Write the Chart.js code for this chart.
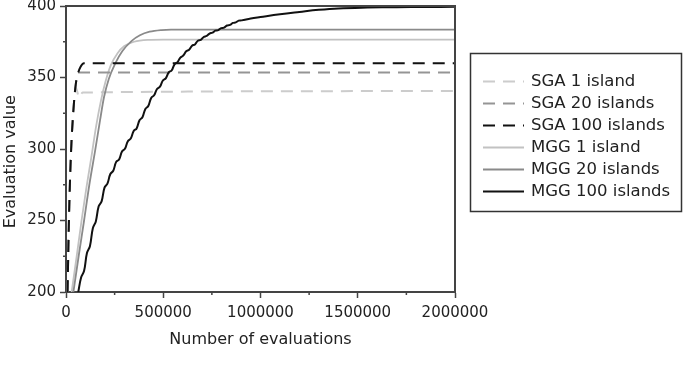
<!DOCTYPE html>
<html>
<head>
<meta charset="utf-8">
<script src="https://cdn.jsdelivr.net/npm/chart.js@4.4.1/dist/chart.umd.min.js"></script>
<style>
  html, body { margin: 0; padding: 0; background: #fff; }
  #wrap { width: 685px; height: 372px; }
</style>
</head>
<body>
<div id="wrap"><canvas id="graphCanvas" width="685" height="372"></canvas></div>
<script>
// series names
var seriesNames = ['SGA 1 island', 'SGA 20 islands', 'SGA 100 islands',
                   'MGG 1 island', 'MGG 20 islands', 'MGG 100 islands'];

// SGA runs (evaluations / evaluation value)
var sga1X = [8000, 15000, 25000, 38000, 50000, 68000, 85000, 2000000];
var sga1Y = [200, 250, 295, 327, 343, 336, 339.5, 340.5];
var sga20X = [8000, 15000, 25000, 38000, 50000, 62000, 2000000];
var sga20Y = [200, 250, 295, 327, 345, 353.5, 353.5];
var sga100X = [8000, 15000, 25000, 38000, 50000, 62000, 75000, 92000, 2000000];
var sga100Y = [200, 250, 295, 327, 345, 353, 357.5, 360, 360];

// MGG runs
var mgg1X = [29000, 55000, 80000, 105000, 130000, 155000, 180000, 205000, 230000, 265000, 300000, 350000, 420000, 500000, 2000000];
var mgg1Y = [200, 225, 250, 273, 294, 316, 334, 348, 358.5, 367, 372, 375, 376.3, 376.5, 376.5];
var mgg20X = [38000, 65000, 93000, 120000, 150000, 175000, 195000, 220000, 252000, 290000, 338000, 380000, 430000, 490000, 540000, 2000000];
var mgg20Y = [200, 225, 250, 275, 299, 320, 336, 349, 359.5, 368.5, 375.6, 379.5, 382, 383.2, 383.5, 383.5];
var mgg100X = [63000, 78000, 93000, 108000, 123000, 138000, 153000, 168000, 183000, 198000,
               213000, 228000, 243000, 258000, 273000, 288000, 303000, 318000, 333000, 348000,
               363000, 378000, 393000, 408000, 423000, 438000, 453000, 468000, 483000, 498000,
               513000, 528000, 543000, 558000, 573000, 588000, 603000, 618000, 633000, 648000,
               663000, 678000, 693000, 708000, 723000, 738000, 753000, 768000, 783000, 798000,
               813000, 828000, 843000, 858000, 873000, 888000, 903000,
               950000, 1000000, 1100000, 1200000, 1300000, 1400000, 1550000, 1700000, 1850000, 2000000];
var mgg100Y = [200, 210.3, 214.8, 227.4, 232, 244.6, 249.2, 259.9, 263.4, 273,
               275.8, 282.5, 284.8, 291, 292.7, 298.3, 300.1, 305.5, 307.3, 312.6,
               314.4, 320.1, 322.2, 328, 330.1, 335.7, 337.6, 342, 343.6, 347.9,
               349.4, 353.6, 354.9, 359.2, 360.75, 363.95, 365.35, 368.35, 369.45, 372.25,
               373.15, 375.75, 376.25, 378.35, 379.05, 380.75, 381.35, 382.75, 383.15, 384.55,
               384.85, 386.35, 386.75, 388.15, 388.55, 389.75, 389.95,
               391.3, 392.3, 394.2, 395.8, 397.3, 398.3, 398.9, 399.2, 399.3, 399.4];

// axis ticks
var xTicks = [0, 500000, 1000000, 1500000, 2000000];
var yTicks = [200, 250, 300, 350, 400];

function pts(xs, ys) {
    var out = [];
    for (var i = 0; i < xs.length; i++) out.push({x: xs[i], y: ys[i]});
    return out;
}

var FONT = "'DejaVu Sans', sans-serif";
var dash = [12, 8];

var chartdata = {
    datasets: [
        {label: seriesNames[5], data: pts(mgg100X, mgg100Y), borderColor: '#111111', borderWidth: 2, tension: 0.4},
        {label: seriesNames[2], data: pts(sga100X, sga100Y), borderColor: '#111111', borderWidth: 2, borderDash: dash, cubicInterpolationMode: 'monotone'},
        {label: seriesNames[4], data: pts(mgg20X, mgg20Y), borderColor: '#8a8a8a', borderWidth: 1.8, cubicInterpolationMode: 'monotone'},
        {label: seriesNames[1], data: pts(sga20X, sga20Y), borderColor: '#959595', borderWidth: 2, borderDash: dash, cubicInterpolationMode: 'monotone'},
        {label: seriesNames[3], data: pts(mgg1X, mgg1Y), borderColor: '#c2c2c2', borderWidth: 1.8, cubicInterpolationMode: 'monotone'},
        {label: seriesNames[0], data: pts(sga1X, sga1Y), borderColor: '#cccccc', borderWidth: 2, borderDash: dash, cubicInterpolationMode: 'monotone'}
    ]
};
chartdata.datasets.forEach(function (d) {
    d.pointRadius = 0;
    d.fill = false;
});

// order shown in the legend box
var legendOrder = [5, 3, 1, 4, 2, 0];

var framePlugin = {
    id: 'frame',
    afterDraw: function (chart) {
        var ctx = chart.ctx, a = chart.chartArea;
        var xs = chart.scales.x, ys = chart.scales.y;
        ctx.save();
        ctx.strokeStyle = '#444';
        ctx.lineWidth = 2;
        ctx.beginPath();
        ctx.moveTo(a.left, a.top);
        ctx.lineTo(a.right, a.top);
        ctx.lineTo(a.right, a.bottom);
        ctx.stroke();
        // minor ticks
        ctx.lineWidth = 1.5;
        ctx.beginPath();
        for (var v = 250000; v < 2000000; v += 500000) {
            var px = xs.getPixelForValue(v);
            ctx.moveTo(px, a.bottom);
            ctx.lineTo(px, a.bottom + 3);
        }
        for (var w = 225; w < 400; w += 50) {
            var py = ys.getPixelForValue(w);
            ctx.moveTo(a.left, py);
            ctx.lineTo(a.left - 3, py);
        }
        ctx.stroke();

        // legend box
        ctx.strokeStyle = '#333';
        ctx.lineWidth = 1.5;
        ctx.strokeRect(470.5, 53.5, 211, 158);
        ctx.font = '16.5px ' + FONT;
        ctx.textBaseline = 'middle';
        ctx.fillStyle = '#222';
        for (var i = 0; i < legendOrder.length; i++) {
            var ds = chart.data.datasets[legendOrder[i]];
            var y = 81.5 + i * 22;
            ctx.save();
            ctx.strokeStyle = ds.borderColor;
            ctx.lineWidth = ds.borderWidth;
            ctx.setLineDash(ds.borderDash || []);
            ctx.beginPath();
            ctx.moveTo(483, y);
            ctx.lineTo(524, y);
            ctx.stroke();
            ctx.restore();
            ctx.fillText(ds.label, 531, y);
        }
        ctx.restore();
    }
};

var graphTarget = document.getElementById('graphCanvas');
var lineGraph = new Chart(graphTarget, {
    type: 'line',
    data: chartdata,
    plugins: [framePlugin],
    options: {
        responsive: false,
        devicePixelRatio: 1,
        animation: false,
        layout: {padding: {top: 6, right: 230, left: 0, bottom: 0}},
        plugins: {legend: {display: false}, tooltip: {enabled: false}},
        scales: {
            x: {
                type: 'linear',
                min: 0, max: 2000000,
                afterBuildTicks: function (s) { s.ticks = xTicks.map(function (v) { return {value: v}; }); },
                afterFit: function (s) { s.height = 80; s.paddingLeft = 0; s.paddingRight = 0; },
                ticks: {
                    color: '#222', font: {family: FONT, size: 15}, padding: 6, maxRotation: 0, autoSkip: false,
                    callback: function (v) { return String(v); }
                },
                grid: {drawOnChartArea: false, tickLength: 6, color: '#444', tickWidth: 1.5},
                border: {color: '#444', width: 2},
                title: {display: true, text: 'Number of evaluations', color: '#222',
                        font: {family: FONT, size: 16}, padding: {top: 0, bottom: 23}}
            },
            y: {
                min: 200, max: 400,
                afterBuildTicks: function (s) { s.ticks = yTicks.map(function (v) { return {value: v}; }); },
                afterFit: function (s) { s.width = 66; s.paddingTop = 0; s.paddingBottom = 0; },
                ticks: {color: '#222', font: {family: FONT, size: 15}, padding: 4},
                grid: {drawOnChartArea: false, tickLength: 6, color: '#444', tickWidth: 1.5},
                border: {color: '#444', width: 2},
                title: {display: true, text: 'Evaluation value     ', color: '#222',
                        font: {family: FONT, size: 16}, padding: {top: 1, bottom: 0}}
            }
        }
    }
});
</script>
</body>
</html>
